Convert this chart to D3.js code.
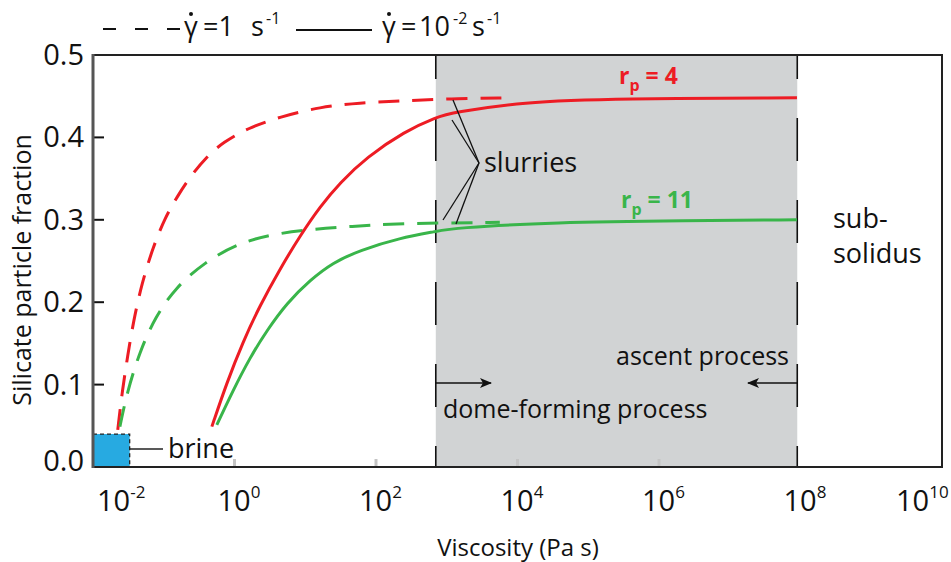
<!DOCTYPE html>
<html>
<head>
<meta charset="utf-8">
<script src="https://cdn.jsdelivr.net/npm/d3@7"></script>
<style>
  body { margin: 0; background: #fff; }
  svg { font-family: "Open Sans", "Noto Sans", sans-serif; }
</style>
</head>
<body>
<script>
// x values are log10(viscosity / Pa s), y values are particle fraction
var redDashLogV   = [-1.65, -1.59, -1.51, -1.43, -1.31, -1.15, -0.98, -0.81, -0.63, -0.39, -0.16, 0.18, 0.64, 1.21, 1.77, 2.34, 3.05, 3.87];
var redDashFrac   = [0.045, 0.090, 0.135, 0.176, 0.223, 0.267, 0.303, 0.328, 0.352, 0.377, 0.394, 0.411, 0.425, 0.437, 0.442, 0.444, 0.447, 0.448];
var greenDashLogV = [-1.62, -1.52, -1.34, -1.12, -0.83, -0.43, 0.04, 0.54, 1.17, 1.66, 2.17, 2.86, 3.75];
var greenDashFrac = [0.049, 0.090, 0.140, 0.182, 0.218, 0.248, 0.271, 0.283, 0.289, 0.292, 0.295, 0.296, 0.297];
var redSolidLogV  = [-0.32, -0.11, 0.12, 0.36, 0.64, 0.93, 1.21, 1.49, 1.87, 2.40, 2.86, 3.09, 4.04, 5.45, 7.95];
var redSolidFrac  = [0.049, 0.102, 0.152, 0.196, 0.240, 0.281, 0.316, 0.345, 0.376, 0.407, 0.425, 0.430, 0.443, 0.447, 0.448];
var greenSolidLogV = [-0.25, -0.02, 0.22, 0.46, 0.74, 1.07, 1.39, 1.77, 2.34, 2.86, 3.09, 4.50, 6.40, 7.95];
var greenSolidFrac = [0.051, 0.093, 0.133, 0.166, 0.199, 0.227, 0.248, 0.263, 0.278, 0.286, 0.290, 0.297, 0.299, 0.300];

var xTickExp = [-2, 0, 2, 4, 6, 8, 10];
var yTicks = [0, 0.1, 0.2, 0.3, 0.4, 0.5];
var shadeRange = [700, 9e7];      // dome-forming .. ascent window (Pa s)
var brineBox = {v0: 0.01, v1: 0.033, f0: 0, f1: 0.04};

var W = 951, H = 562;
var svg = d3.select("body").append("svg").attr("width", W).attr("height", H);

var x = d3.scaleLog().domain([1e-2, 1e10]).range([93, 942]);
var y = d3.scaleLinear().domain([0, 0.5]).range([467, 55]);

var red = "#ed1c24", green = "#39b54a", ink = "#111";

//grey band
svg.append("rect")
    .attr("x", x(shadeRange[0])).attr("y", y(0.5))
    .attr("width", x(shadeRange[1]) - x(shadeRange[0]))
    .attr("height", y(0) - y(0.5))
    .attr("fill", "#d1d3d4");

//dashed band edges
shadeRange.forEach(function(v) {
    svg.append("line")
        .attr("x1", x(v)).attr("x2", x(v))
        .attr("y1", y(0.5)).attr("y2", y(0))
        .attr("stroke", ink).attr("stroke-width", 1.6)
        .attr("stroke-dasharray", "43,39").attr("stroke-dashoffset", 19);
});

//faint bottom ticks
svg.selectAll(".gt").data([0, 2, 4, 6]).enter().append("line")
    .attr("x1", function(d) { return x(Math.pow(10, d)); })
    .attr("x2", function(d) { return x(Math.pow(10, d)); })
    .attr("y1", y(0) - 8).attr("y2", y(0))
    .attr("stroke", "#c4c4c4").attr("stroke-width", 3);

//y ticks
svg.selectAll(".yt").data(yTicks.slice(1, 5)).enter().append("line")
    .attr("x1", 93).attr("x2", 104)
    .attr("y1", function(d) { return y(d); }).attr("y2", function(d) { return y(d); })
    .attr("stroke", ink).attr("stroke-width", 2);

//curves
var line = d3.line()
    .x(function(d) { return x(Math.pow(10, d[0])); })
    .y(function(d) { return y(d[1]); })
    .curve(d3.curveBasis);

function curve(lv, fr, color, dashed) {
    svg.append("path")
        .attr("d", line(d3.zip(lv, fr)))
        .attr("fill", "none").attr("stroke", color).attr("stroke-width", 3)
        .attr("stroke-dasharray", dashed ? "21,13" : null);
}
curve(redDashLogV, redDashFrac, red, true);
curve(greenDashLogV, greenDashFrac, green, true);
curve(redSolidLogV, redSolidFrac, red, false);
curve(greenSolidLogV, greenSolidFrac, green, false);

//brine box
svg.append("rect")
    .attr("x", x(brineBox.v0)).attr("y", y(brineBox.f1))
    .attr("width", x(brineBox.v1) - x(brineBox.v0))
    .attr("height", y(brineBox.f0) - y(brineBox.f1))
    .attr("fill", "#27aae1").attr("stroke", "#222")
    .attr("stroke-width", 1.3).attr("stroke-dasharray", "4,3");
svg.append("line").attr("x1", x(brineBox.v1)).attr("x2", 163)
    .attr("y1", 449).attr("y2", 449).attr("stroke", "#222").attr("stroke-width", 1.3);
svg.append("text").attr("x", 168).attr("y", 458)
    .attr("font-size", 27).attr("fill", ink).text("brine");

//slurries pointer
[[453, 100], [452, 120], [443, 220], [456, 224]].forEach(function(p) {
    svg.append("line").attr("x1", 479).attr("y1", 163).attr("x2", p[0]).attr("y2", p[1])
        .attr("stroke", ink).attr("stroke-width", 1.3);
});
svg.append("text").attr("x", 484).attr("y", 172)
    .attr("font-size", 27).attr("fill", ink).text("slurries");

//rp labels
function rpLabel(px, py, color, num) {
    var t = svg.append("text").attr("x", px).attr("y", py)
        .attr("font-size", 23).attr("font-weight", "bold").attr("fill", color);
    t.append("tspan").text("r");
    t.append("tspan").attr("font-size", 16).attr("dy", 7).text("p");
    t.append("tspan").attr("dy", -7).text(" = " + num);
}
rpLabel(619, 84, red, "4");
rpLabel(621, 208, green, "11");

//process arrows
svg.append("defs").append("marker")
    .attr("id", "ah").attr("viewBox", "0 0 12 10").attr("refX", 11).attr("refY", 5)
    .attr("markerWidth", 12).attr("markerHeight", 10).attr("markerUnits", "userSpaceOnUse")
    .attr("orient", "auto")
    .append("path").attr("d", "M0,0 L12,5 L0,10 L3,5 Z").attr("fill", ink);
svg.append("line").attr("x1", x(shadeRange[0])).attr("x2", 491).attr("y1", 383).attr("y2", 383)
    .attr("stroke", ink).attr("stroke-width", 1.3).attr("marker-end", "url(#ah)");
svg.append("line").attr("x1", x(shadeRange[1])).attr("x2", 748).attr("y1", 383).attr("y2", 383)
    .attr("stroke", ink).attr("stroke-width", 1.3).attr("marker-end", "url(#ah)");
svg.append("text").attr("x", 443).attr("y", 418)
    .attr("font-size", 25).attr("fill", ink).text("dome-forming process");
svg.append("text").attr("x", 789).attr("y", 365).attr("text-anchor", "end")
    .attr("font-size", 25).attr("fill", ink).text("ascent process");

//sub-solidus
svg.append("text").attr("x", 833).attr("y", 228).attr("font-size", 27).attr("fill", ink).text("sub-");
svg.append("text").attr("x", 833).attr("y", 263).attr("font-size", 27).attr("fill", ink).text("solidus");

//frame
svg.append("path")
    .attr("d", "M93," + y(0.5) + "H942V" + y(0) + "H93")
    .attr("fill", "none").attr("stroke", "#222").attr("stroke-width", 2);
svg.append("line").attr("x1", 93).attr("x2", 93).attr("y1", y(0.5) - 1).attr("y2", y(0) + 1)
    .attr("stroke", "#555").attr("stroke-width", 3);

//y tick labels
svg.selectAll(".yl").data(yTicks).enter().append("text")
    .attr("x", 84).attr("y", function(d) { return d === 0 ? y(d) + 4 : y(d) + 10; })
    .attr("text-anchor", "end").attr("font-size", 29).attr("fill", ink)
    .text(function(d) { return d.toFixed(1); });

//x tick labels (power of ten)
xTickExp.forEach(function(e) {
    var lx = x(Math.pow(10, e)) - 17;
    if (e === -2) lx = 97;
    if (e === 10) lx = 896;
    var t = svg.append("text").attr("x", lx).attr("y", 511)
        .attr("font-size", 29).attr("fill", ink);
    t.append("tspan").text("10");
    t.append("tspan").attr("font-size", 17).attr("dy", -13).text(e < 0 ? "-" + (-e) : e);
});

//axis titles
svg.append("text").attr("x", 518).attr("y", 556).attr("text-anchor", "middle")
    .attr("font-size", 24).attr("fill", ink).text("Viscosity (Pa s)");
svg.append("text").attr("transform", "translate(31,270) rotate(-90)")
    .attr("text-anchor", "middle").attr("font-size", 25).attr("fill", ink)
    .text("Silicate particle fraction");

//legend
svg.append("line").attr("x1", 103).attr("x2", 182).attr("y1", 29).attr("y2", 29)
    .attr("stroke", ink).attr("stroke-width", 2).attr("stroke-dasharray", "13,19");
svg.append("line").attr("x1", 296).attr("x2", 372).attr("y1", 30).attr("y2", 30)
    .attr("stroke", ink).attr("stroke-width", 2);

function rateLabel(parts) {
    var t = svg.append("text").attr("y", 36).attr("font-size", 27).attr("fill", ink);
    svg.append("circle").attr("cx", parts[0].x + 7).attr("cy", 14).attr("r", 2).attr("fill", ink);
    parts.forEach(function(p) {
        t.append("tspan").attr("x", p.x).attr("y", p.sup ? 24 : 36)
            .attr("font-size", p.sup ? 16 : 27).text(p.s);
    });
}
rateLabel([{s: "γ", x: 184}, {s: "=1", x: 203}, {s: "s", x: 251}, {s: "-1", x: 266, sup: true}]);
rateLabel([{s: "γ", x: 382}, {s: "=", x: 401}, {s: "10", x: 419}, {s: "-2", x: 453, sup: true},
           {s: "s", x: 472}, {s: "-1", x: 487, sup: true}]);
</script>
</body>
</html>
